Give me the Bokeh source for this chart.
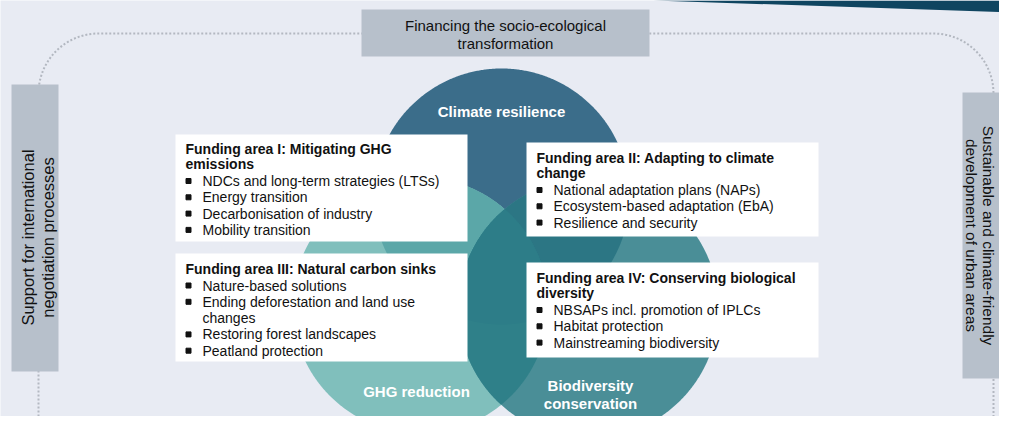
import numpy as np
from bokeh.plotting import figure
from bokeh.models import Range1d
from bokeh.embed import file_html
from bokeh.resources import INLINE
from bokeh.core.properties import value

# ---------------- content ----------------
top_label = ["Financing the socio-ecological", "transformation"]
left_label = ["Support for international", "negotiation processes"]
right_label = ["Sustainable and climate-friendly", "development of urban areas"]

circle_names = ["Climate resilience", "GHG reduction", "Biodiversity\nconservation"]

area_titles = [
    ["Funding area I: Mitigating GHG", "emissions"],
    ["Funding area II: Adapting to climate", "change"],
    ["Funding area III: Natural carbon sinks"],
    ["Funding area IV: Conserving biological", "diversity"],
]
area_bullets = [
    [["NDCs and long-term strategies (LTSs)"], ["Energy transition"],
     ["Decarbonisation of industry"], ["Mobility transition"]],
    [["National adaptation plans (NAPs)"], ["Ecosystem-based adaptation (EbA)"],
     ["Resilience and security"]],
    [["Nature-based solutions"], ["Ending deforestation and land use", "changes"],
     ["Restoring forest landscapes"], ["Peatland protection"]],
    [["NBSAPs incl. promotion of IPLCs"], ["Habitat protection"],
     ["Mainstreaming biodiversity"]],
]

# ---------------- layout (reference pixel frame) ----------------
H = 432
def Y(v):
    return H - np.asarray(v, dtype=float)

FONT = value("Liberation Sans")
BG = "#E8EBF3"
GRAY = "#B7C0CB"
TXT = "#111111"

circ_x = [501, 420, 588]
circ_y = [196, 305, 308]
circ_r = [128, 128, 130]
circ_col = ["#3B6D8A", "#80BFBC", "#4A8E97"]
lens_sets = [[0, 1], [0, 2], [1, 2], [0, 1, 2]]
lens_col = ["#5BA7A8", "#2C7684", "#2F8089", "#2D7D88"]
label_x = [501, 416, 590]
label_y = [[111], [391], [385, 403]]

box_l = [175, 526, 175, 526]
box_r = [467, 818, 467, 818]
box_t = [134, 142, 253, 262]
box_b = [241, 236, 361, 357]
text_y0 = [148, 157, 268, 277]

p = figure(width=999, height=416, x_range=Range1d(0, 999), y_range=Range1d(16, 432),
           output_backend="svg", toolbar_location=None, min_border=0,
           x_axis_location=None, y_axis_location=None)
p.grid.visible = False
p.outline_line_color = None
p.background_fill_color = BG
p.border_fill_color = BG

# dark band at top right
p.patch([653, 1015, 1015], Y([0, 0, 12]), color="#0F4560", line_color=None)

# dotted rounded frame
L, R, T, B, rad = 38, 993, 33, 480, 60
a = np.linspace(0, np.pi / 2, 30)
fx = np.concatenate([[L], L + rad - rad * np.cos(a), R - rad + rad * np.sin(a), [R]])
fy = np.concatenate([[B], T + rad - rad * np.sin(a), T + rad - rad * np.cos(a), [B]])
p.line(fx, Y(fy), line_color="#B3B8C1", line_width=2, line_dash="2 2")

# circles
t = np.linspace(0, 2 * np.pi, 721)
for i in range(3):
    p.patch(circ_x[i] + circ_r[i] * np.cos(t), Y(circ_y[i] + circ_r[i] * np.sin(t)),
            color=circ_col[i], line_color=None)

def region(idx):
    xs, ys = [], []
    for i in idx:
        x = circ_x[i] + circ_r[i] * np.cos(t)
        y = circ_y[i] + circ_r[i] * np.sin(t)
        m = np.ones_like(x, dtype=bool)
        for j in idx:
            if j != i:
                m &= (x - circ_x[j]) ** 2 + (y - circ_y[j]) ** 2 <= circ_r[j] ** 2 + 1e-6
        xs.append(x[m]); ys.append(y[m])
    x = np.concatenate(xs); y = np.concatenate(ys)
    ang = np.arctan2(y - y.mean(), x - x.mean())
    o = np.argsort(ang)
    return x[o], y[o]

for k, idx in enumerate(lens_sets):
    x, y = region(idx)
    p.patch(x, Y(y), color=lens_col[k], line_color=None)

# circle labels
for i in range(3):
    for k, line in enumerate(circle_names[i].split("\n")):
        p.text([label_x[i]], Y([label_y[i][k]]), text=[line], text_color="white",
               text_font=FONT, text_font_style="bold", text_font_size="15px",
               text_align="center", text_baseline="middle")

# gray boxes
p.quad(left=[361, 11, 962], right=[649, 58, 1015], top=Y([9, 84, 92]), bottom=Y([56, 371, 378]),
       color=GRAY, line_color=None)
for k, line in enumerate(top_label):
    p.text([505], Y([25 + 18 * k]), text=[line], text_color=TXT, text_font=FONT,
           text_font_size="15px", text_align="center", text_baseline="middle")
for k, line in enumerate(left_label):
    p.text([27 + 20 * k], Y([237]), text=[line], text_color=TXT, text_font=FONT,
           text_font_size="16.5px", text_align="center", text_baseline="middle", angle=np.pi / 2)
for k, line in enumerate(right_label):
    p.text([988 - 17 * k], Y([235]), text=[line], text_color=TXT, text_font=FONT,
           text_font_size="15.5px", text_align="center", text_baseline="middle", angle=-np.pi / 2)

# white boxes with text
p.quad(left=box_l, right=box_r, top=Y(box_t), bottom=Y(box_b), color="white", line_color=None)
for b in range(4):
    y = text_y0[b]
    x0 = box_l[b] + 10
    for line in area_titles[b]:
        p.text([x0], Y([y]), text=[line], text_color=TXT, text_font=FONT, text_font_style="bold",
               text_font_size="14px", text_align="left", text_baseline="middle")
        y += 15.5
    y += 1.5
    for item in area_bullets[b]:
        p.scatter([x0 + 3], Y([y]), marker="square", size=5, color=TXT)
        for line in item:
            p.text([x0 + 17], Y([y]), text=[line], text_color=TXT, text_font=FONT,
                   text_font_size="14px", text_align="left", text_baseline="middle")
            y += 16.3

open("out.html", "w").write(file_html(p, INLINE))
